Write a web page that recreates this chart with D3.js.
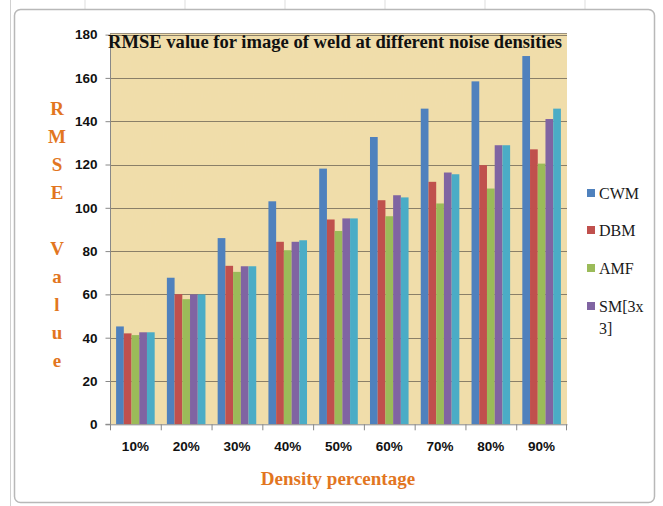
<!DOCTYPE html>
<html><head><meta charset="utf-8">
<script src="https://cdn.jsdelivr.net/npm/d3@7"></script>
<style>html,body{margin:0;padding:0;background:#fff;}svg{display:block;}</style>
</head><body>
<script>
const categories = ["10%","20%","30%","40%","50%","60%","70%","80%","90%"];
const seriesNames = ["CWM","DBM","AMF","SM[3x3]","SM[5x5]"];
const CWM   = [45.2, 67.7, 86.0, 103.0, 118.1, 132.7, 145.8, 158.4, 170.1];
const DBM   = [42.0, 60.1, 73.2, 84.3, 94.6, 103.5, 112.0, 119.7, 127.0];
const AMF   = [41.2, 57.8, 70.4, 80.4, 89.3, 96.1, 102.0, 108.9, 120.4];
const SM3   = [42.5, 60.0, 73.0, 84.3, 95.1, 105.8, 116.3, 128.9, 141.0];
const SM5   = [42.5, 60.0, 73.0, 85.0, 95.1, 104.8, 115.5, 128.9, 145.8];
const yTicks = [0,20,40,60,80,100,120,140,160,180];
const legendLabels = ["CWM","DBM","AMF","SM[3x\n3]"];
const colors = ["#4F81BD","#C0504D","#9BBB59","#8064A2","#4BACC6"];
const titleText = "RMSE value for image of weld at different noise densities";
const yTitle = "RMSE Value";
const xTitle = "Density percentage";

const seriesValues = [CWM, DBM, AMF, SM3, SM5];
const W = 663, H = 506;
const svg = d3.select("body").append("svg").attr("width", W).attr("height", H);

// spreadsheet frame
const g0 = svg.append("g");
[85,185,285,385,485,585].forEach(x=>{
  g0.append("line").attr("x1",x).attr("x2",x).attr("y1",0).attr("y2",9).attr("stroke","#ddd");
});
g0.append("rect").attr("x",14.5).attr("y",9.5).attr("width",640).attr("height",493)
  .attr("rx",6).attr("fill","#fff").attr("stroke","#b8b8b8").attr("stroke-width",1.5);
g0.append("line").attr("x1",10.5).attr("x2",10.5).attr("y1",0).attr("y2",H).attr("stroke","#d0d0d0");

const plot = {left:110, right:567, top:33, bottom:424.3};
const x0 = d3.scaleBand().domain(categories).range([plot.left, plot.right]).padding(0);
const x1 = d3.scaleBand().domain(seriesNames).range([0, x0.bandwidth()]).paddingInner(0).paddingOuter(0.79);
const y = d3.scaleLinear().domain([0,180]).range([plot.bottom, 34.6]);

// plot area background (papyrus-like)
const defs = svg.append("defs");
const f = defs.append("filter").attr("id","tex").attr("x",0).attr("y",0).attr("width","100%").attr("height","100%");
f.append("feTurbulence").attr("type","fractalNoise").attr("baseFrequency","0.6 0.15").attr("numOctaves",3).attr("seed",4).attr("result","n");
f.append("feColorMatrix").attr("in","n").attr("type","matrix")
  .attr("values","0 0 0 0 0.85  0 0 0 0 0.72  0 0 0 0 0.45  0 0 0 0.12 0").attr("result","c");
f.append("feComposite").attr("in","c").attr("in2","SourceGraphic").attr("operator","atop");

svg.append("rect").attr("x",plot.left).attr("y",plot.top).attr("width",plot.right-plot.left).attr("height",plot.bottom-plot.top)
  .attr("fill","#F0DDAA").attr("filter","url(#tex)");

// gridlines
svg.append("g").selectAll("line").data(yTicks.filter(d=>d>0)).join("line")
  .attr("x1",plot.left).attr("x2",plot.right).attr("y1",d=>Math.round(y(d))+0.5).attr("y2",d=>Math.round(y(d))+0.5)
  .attr("stroke","#8a7f68").attr("stroke-width",1);
svg.append("line").attr("x1",plot.left).attr("x2",plot.right).attr("y1",plot.top+0.5).attr("y2",plot.top+0.5).attr("stroke","#9a9080");

// bars
const bars = svg.append("g");
seriesValues.forEach((vals, si) => {
  bars.append("g").selectAll("rect").data(vals).join("rect")
    .attr("x",(d,i)=>x0(categories[i]) + x1(seriesNames[si]))
    .attr("width",x1.bandwidth())
    .attr("y",d=>y(d))
    .attr("height",d=>plot.bottom - y(d))
    .attr("fill",colors[si]);
});

// y axis
const yAxis = d3.axisLeft(y).tickValues(yTicks).tickSize(5).tickPadding(8);
const ya = svg.append("g").attr("transform",`translate(${plot.left+0.5},0)`).call(yAxis);
ya.select(".domain").attr("stroke","#888").attr("d",`M-5,${y(0)}H0V${y(180)}`);
ya.selectAll(".tick line").attr("stroke","#888");
ya.selectAll("text").attr("font-family","'Liberation Sans', Arial, sans-serif").attr("font-weight","bold")
  .attr("font-size",13.5).attr("fill","#111");

// x axis
const xAxis = d3.axisBottom(x0).tickSize(0).tickPadding(17);
const xa = svg.append("g").attr("transform",`translate(0,${plot.bottom})`).call(xAxis);
xa.select(".domain").attr("stroke","#888");
xa.selectAll("text").attr("font-family","'Liberation Sans', Arial, sans-serif").attr("font-weight","bold")
  .attr("font-size",13.5).attr("fill","#111");
// category boundary ticks
xa.append("g").selectAll("line").data(categories.concat(["end"])).join("line")
  .attr("x1",(d,i)=> i<categories.length ? x0(d)+0.5 : plot.right-0.5)
  .attr("x2",(d,i)=> i<categories.length ? x0(d)+0.5 : plot.right-0.5)
  .attr("y1",0).attr("y2",6).attr("stroke","#888");

// title
svg.append("text").attr("x",108).attr("y",48).attr("textLength",454).attr("lengthAdjust","spacingAndGlyphs")
  .attr("font-family","'Liberation Serif','Times New Roman',serif").attr("font-weight","bold").attr("font-size",18)
  .attr("fill","#111").text(titleText);

// y title: stacked letters
const letters = yTitle.split("");
svg.append("g").selectAll("text").data(letters).join("text")
  .attr("x",57).attr("y",(d,i)=>108 + i*28).attr("dy","0.35em").attr("text-anchor","middle")
  .attr("font-family","'Liberation Serif','Times New Roman',serif").attr("font-weight","bold").attr("font-size",19)
  .attr("fill","#E2761F").text(d=>d);

// x title
svg.append("text").attr("x",338).attr("y",478).attr("dy","0.35em").attr("text-anchor","middle")
  .attr("font-family","'Liberation Serif','Times New Roman',serif").attr("font-weight","bold").attr("font-size",19)
  .attr("fill","#E2761F").text(xTitle);

// legend (first four entries visible)
const leg = svg.append("g");
const legY = [193, 230, 268, 306];
legendLabels.forEach((lab, i) => {
  leg.append("rect").attr("x",587).attr("y",legY[i]-4).attr("width",8).attr("height",8).attr("fill",colors[i]);
  const t = leg.append("text").attr("x",599).attr("y",legY[i])
    .attr("font-family","'Liberation Serif','Times New Roman',serif").attr("font-size",16).attr("fill","#1a1a1a");
  lab.split("\n").forEach((line, k) => {
    t.append("tspan").attr("x",599).attr("dy", k===0 ? "0.35em" : "1.4em").text(line);
  });
});
</script>
</body></html>
